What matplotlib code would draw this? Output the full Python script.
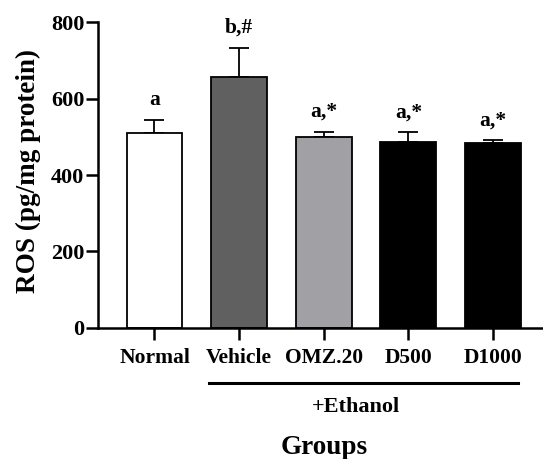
import matplotlib
matplotlib.use("Agg")
import matplotlib.pyplot as plt
import matplotlib.transforms as mtransforms

groups = ["Normal", "Vehicle", "OMZ.20", "D500", "D1000"]
ros_mean = [511, 657, 501, 487, 485]
ros_err = [33, 77, 13, 26, 6]
sig_labels = ["a", "b,#", "a,*", "a,*", "a,*"]
bar_colors = ["#ffffff", "#606060", "#a1a1a5", "#000000", "#000000"]
y_ticks = [0, 200, 400, 600, 800]

plt.rcParams['font.family'] = ['Liberation Serif', 'DejaVu Serif']
plt.rcParams['font.weight'] = 'bold'

fig = plt.figure(figsize=(5.43, 4.59), dpi=100)
ax = fig.add_axes([0.1796, 0.286, 0.8204, 0.665])

x = list(range(len(groups)))
ax.bar(x, ros_mean, width=0.66, color=bar_colors, edgecolor="black", linewidth=1.3, zorder=2)
ax.errorbar(x, ros_mean, yerr=[[0]*len(x), ros_err], fmt="none", ecolor="black",
            elinewidth=1.3, capsize=7, capthick=1.3, zorder=1)

for xi, m, e, lab in zip(x, ros_mean, ros_err, sig_labels):
    ax.annotate(lab, (xi, m + e), xytext=(0, 7), textcoords="offset points",
                ha="center", va="bottom", fontsize=15.5, fontweight="bold")

ax.set_xlim(-0.673, 4.59)
ax.set_ylim(0, 800)
ax.set_yticks(y_ticks)
ax.set_xticks(x)
ax.set_xticklabels(groups, fontsize=15.5, fontweight="bold")
ax.tick_params(axis="y", labelsize=16, length=8.5, width=1.8, pad=1)
ax.tick_params(axis="x", length=8.5, width=1.8, pad=6)
for s in ["top", "right"]:
    ax.spines[s].set_visible(False)
for s in ["left", "bottom"]:
    ax.spines[s].set_linewidth(1.8)

ax.set_ylabel("ROS (pg/mg protein)", fontsize=19.5, fontweight="bold")
ax.yaxis.set_label_coords(-0.128, 0.515)

trans = mtransforms.blended_transform_factory(ax.transData, ax.transAxes)
ax.plot([1 - 0.357, 4.29], [-0.180, -0.180], color="black", linewidth=2.2,
        transform=trans, clip_on=False)
ax.text(2.375, -0.259, "+Ethanol", transform=trans, ha="center", va="center",
        fontsize=16, fontweight="bold")
ax.text(2.01, -0.391, "Groups", transform=trans, ha="center", va="center",
        fontsize=19.5, fontweight="bold")

fig.savefig("out.png", dpi=100)
